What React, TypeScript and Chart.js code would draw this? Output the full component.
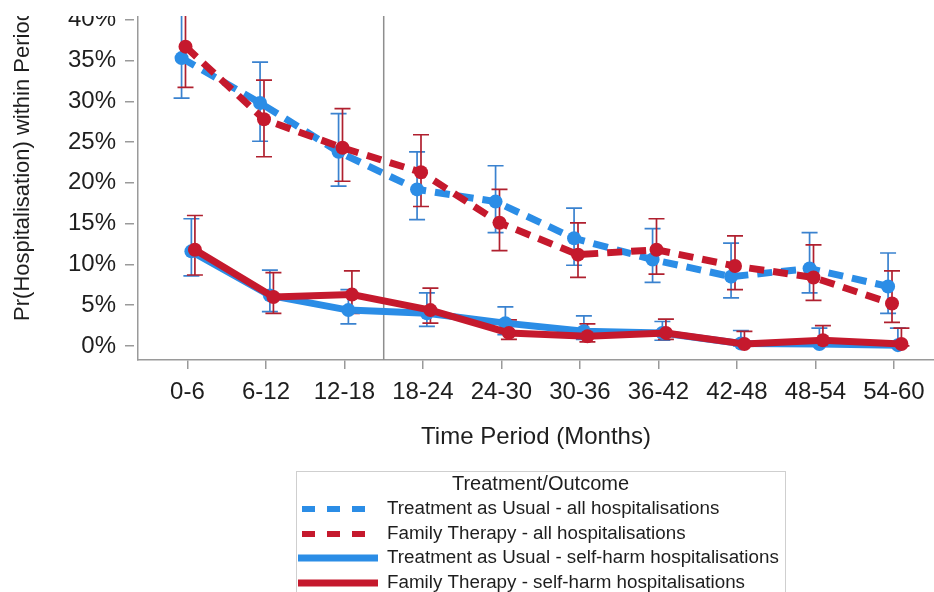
import React, { useEffect, useRef } from 'react';
import { Chart, registerables } from 'chart.js';

Chart.register(...registerables);

// ---------- data ----------
const periods = ['0-6', '6-12', '12-18', '18-24', '24-30', '30-36', '36-42', '42-48', '48-54', '54-60'];
const yTicks = [0, 5, 10, 15, 20, 25, 30, 35, 40];
const switchAt = 2.5; // treatment change marker (between 12-18 and 18-24)

const seriesNames = [
  'Treatment as Usual - all hospitalisations',
  'Family Therapy - all hospitalisations',
  'Treatment as Usual - self-harm hospitalisations',
  'Family Therapy - self-harm hospitalisations',
];

const tauAll = [35.3, 29.8, 23.8, 19.2, 17.7, 13.2, 10.6, 8.5, 9.5, 7.3];
const tauAllLo = [30.4, 25.1, 19.6, 15.5, 13.9, 9.9, 7.8, 5.9, 6.5, 4.0];
const tauAllHi = [41.8, 34.8, 28.5, 23.8, 22.1, 16.9, 14.4, 12.6, 13.9, 11.4];

const ftAll = [36.7, 27.8, 24.3, 21.3, 15.1, 11.2, 11.8, 9.8, 8.4, 5.2];
const ftAllLo = [31.7, 23.2, 20.2, 17.1, 11.7, 8.4, 8.8, 6.9, 5.6, 2.9];
const ftAllHi = [42.5, 32.6, 29.1, 25.9, 19.2, 15.1, 15.6, 13.5, 12.4, 9.2];

const tauSelf = [11.6, 6.2, 4.4, 4.0, 2.8, 1.8, 1.6, 0.3, 0.25, 0.1];
const tauSelfLo = [8.6, 4.2, 2.7, 2.4, 1.4, 0.8, 0.7, 0.0, 0.0, 0.0];
const tauSelfHi = [15.6, 9.3, 6.9, 6.5, 4.8, 3.7, 3.0, 1.9, 2.2, 2.2];

const ftSelf = [11.8, 6.0, 6.3, 4.4, 1.6, 1.2, 1.6, 0.25, 0.7, 0.25];
const ftSelfLo = [8.7, 4.0, 4.0, 2.8, 0.8, 0.5, 0.8, 0.0, 0.1, 0.0];
const ftSelfHi = [16.0, 9.0, 9.2, 7.1, 3.2, 2.7, 3.3, 1.8, 2.5, 2.2];

const dodge = [-0.075, -0.025, 0.05, 0.095];

// ---------- style ----------
const FONT = '"Liberation Sans", Arial, sans-serif';
const BLUE = '#2b8de6';
const RED = '#c5192d';
const BLUE_ERR = '#3a82cf';
const RED_ERR = '#b0202f';
const AXIS = '#9a9a9a';
const TEXT = '#1e1e1e';

const CANVAS_W = 934;
const CANVAS_H = 632;
const OFFSET_Y = 40; // canvas shifted up by this amount on the page

const errorBarsPlugin = {
  id: 'errorBars',
  beforeDatasetsDraw(chart: any) {
    const { ctx, chartArea, scales } = chart;
    const x = scales.x;
    const y = scales.y;
    ctx.save();
    ctx.beginPath();
    ctx.rect(chartArea.left, chartArea.top, chartArea.right - chartArea.left, chartArea.bottom - chartArea.top);
    ctx.clip();
    // vertical reference line
    const vx = x.getPixelForValue(switchAt);
    ctx.strokeStyle = '#8e8e8e';
    ctx.lineWidth = 1.5;
    ctx.beginPath();
    ctx.moveTo(vx, chartArea.top);
    ctx.lineTo(vx, chartArea.bottom);
    ctx.stroke();
    // error bars
    chart.data.datasets.forEach((ds: any) => {
      ctx.strokeStyle = ds.errColor;
      ctx.lineWidth = 1.7;
      ds.data.forEach((p: any, i: number) => {
        const px = x.getPixelForValue(p.x);
        const yl = y.getPixelForValue(ds.lo[i]);
        const yh = y.getPixelForValue(ds.hi[i]);
        ctx.beginPath();
        ctx.moveTo(px, yl);
        ctx.lineTo(px, yh);
        ctx.moveTo(px - 8, yl);
        ctx.lineTo(px + 8, yl);
        ctx.moveTo(px - 8, yh);
        ctx.lineTo(px + 8, yh);
        ctx.stroke();
      });
    });
    ctx.restore();
  },
};

const legendPlugin = {
  id: 'boxLegend',
  afterDraw(chart: any) {
    const { ctx } = chart;
    const oy = OFFSET_Y;
    const left = 296;
    const right = 785;
    const top = 471 + oy;
    ctx.save();
    ctx.fillStyle = '#ffffff';
    ctx.fillRect(left, top, right - left, CANVAS_H - top + 5);
    ctx.strokeStyle = '#cfcfcf';
    ctx.lineWidth = 1;
    ctx.strokeRect(left + 0.5, top + 0.5, right - left, CANVAS_H - top + 10);
    ctx.fillStyle = TEXT;
    ctx.textBaseline = 'middle';
    ctx.textAlign = 'center';
    ctx.font = `20px ${FONT}`;
    ctx.fillText('Treatment/Outcome', (left + right) / 2, 484 + oy);
    const rows = [509, 534, 558, 583];
    ctx.textAlign = 'left';
    ctx.font = `18.8px ${FONT}`;
    chart.data.datasets.forEach((ds: any, i: number) => {
      const ry = rows[i] + oy;
      ctx.save();
      ctx.strokeStyle = ds.borderColor;
      if (ds.borderDash && ds.borderDash.length) {
        ctx.lineWidth = 6;
        ctx.setLineDash([13, 12]);
        ctx.beginPath();
        ctx.moveTo(302, ry);
        ctx.lineTo(366, ry);
        ctx.stroke();
      } else {
        ctx.lineWidth = 7;
        ctx.beginPath();
        ctx.moveTo(298, ry);
        ctx.lineTo(378, ry);
        ctx.stroke();
      }
      ctx.restore();
      ctx.fillStyle = TEXT;
      ctx.fillText(ds.label, 387, ry);
    });
    // top crop mask
    ctx.fillStyle = '#ffffff';
    ctx.fillRect(0, 0, CANVAS_W, 16 + oy);
    ctx.restore();
  },
};

function makeSeries(label: string, vals: number[], lo: number[], hi: number[], k: number, color: string, errColor: string, dashed: boolean, order: number) {
  return {
    label,
    data: vals.map((v, i) => ({ x: i + dodge[k], y: v })),
    lo,
    hi,
    errColor,
    borderColor: color,
    backgroundColor: color,
    pointBackgroundColor: color,
    pointBorderColor: color,
    pointBorderWidth: 0,
    pointRadius: 7,
    borderWidth: 7,
    borderDash: dashed ? [15, 9] : [],
    tension: 0,
    fill: false,
    order,
  };
}

export default function App() {
  const ref = useRef<HTMLCanvasElement>(null);

  useEffect(() => {
    const canvas = ref.current;
    if (!canvas) return;
    Chart.defaults.font.family = FONT;
    const chart = new Chart(canvas, {
      type: 'line',
      data: {
        datasets: [
          makeSeries(seriesNames[0], tauAll, tauAllLo, tauAllHi, 0, BLUE, BLUE_ERR, true, 4),
          makeSeries(seriesNames[1], ftAll, ftAllLo, ftAllHi, 1, RED, RED_ERR, true, 3),
          makeSeries(seriesNames[2], tauSelf, tauSelfLo, tauSelfHi, 2, BLUE, BLUE_ERR, false, 2),
          makeSeries(seriesNames[3], ftSelf, ftSelfLo, ftSelfHi, 3, RED, RED_ERR, false, 1),
        ] as any,
      },
      options: {
        responsive: false,
        animation: false,
        devicePixelRatio: 1,
        layout: { autoPadding: false, padding: { top: 10, left: 0, right: 0, bottom: CANVAS_H - 492 } },
        plugins: {
          legend: { display: false },
          tooltip: { enabled: false },
        },
        scales: {
          x: {
            type: 'linear',
            min: -0.63,
            max: 9.51,
            afterBuildTicks: (s: any) => {
              s.ticks = periods.map((_, i) => ({ value: i }));
            },
            afterFit: (s: any) => {
              s.height = 92;
              s.paddingLeft = 0;
              s.paddingRight = 0;
            },
            ticks: {
              autoSkip: false,
              maxRotation: 0,
              padding: 9,
              color: TEXT,
              font: { size: 24, family: FONT },
              callback: (v: any) => periods[Math.round(Number(v))] ?? '',
            },
            grid: { drawOnChartArea: false, drawTicks: true, tickLength: 9, color: AXIS, lineWidth: 1.5 },
            border: { display: true, color: AXIS, width: 1.5 },
            title: {
              display: true,
              text: 'Time Period (Months)',
              color: TEXT,
              font: { size: 24, family: FONT },
              padding: { top: 0, bottom: 0 },
            },
          },
          y: {
            type: 'linear',
            min: -1.72,
            max: 46.1,
            afterBuildTicks: (s: any) => {
              s.ticks = yTicks.map((v) => ({ value: v }));
            },
            afterFit: (s: any) => {
              s.width = 138;
              s.paddingTop = 0;
              s.paddingBottom = 0;
            },
            ticks: {
              padding: 9,
              color: TEXT,
              font: { size: 24, family: FONT },
              callback: (v: any) => `${v}%`,
            },
            grid: {
              drawOnChartArea: false,
              drawTicks: true,
              tickLength: 13,
              tickBorderDash: [9, 20],
              color: AXIS,
              lineWidth: 1.5,
            },
            border: { display: true, color: AXIS, width: 1.5 },
            title: {
              display: true,
              text: 'Pr(Hospitalisation) within Period',
              color: TEXT,
              font: { size: 22, family: FONT },
              padding: { top: 10, bottom: 0 },
            },
          },
        },
      } as any,
      plugins: [errorBarsPlugin, legendPlugin],
    });
    return () => chart.destroy();
  }, []);

  return (
    <div
      style={{
        position: 'fixed',
        left: 0,
        top: 0,
        width: CANVAS_W,
        height: 592,
        overflow: 'hidden',
        background: '#fff',
      }}
    >
      <canvas
        ref={ref}
        width={CANVAS_W}
        height={CANVAS_H}
        style={{ position: 'absolute', left: 0, top: -OFFSET_Y, width: CANVAS_W, height: CANVAS_H }}
      />
    </div>
  );
}
